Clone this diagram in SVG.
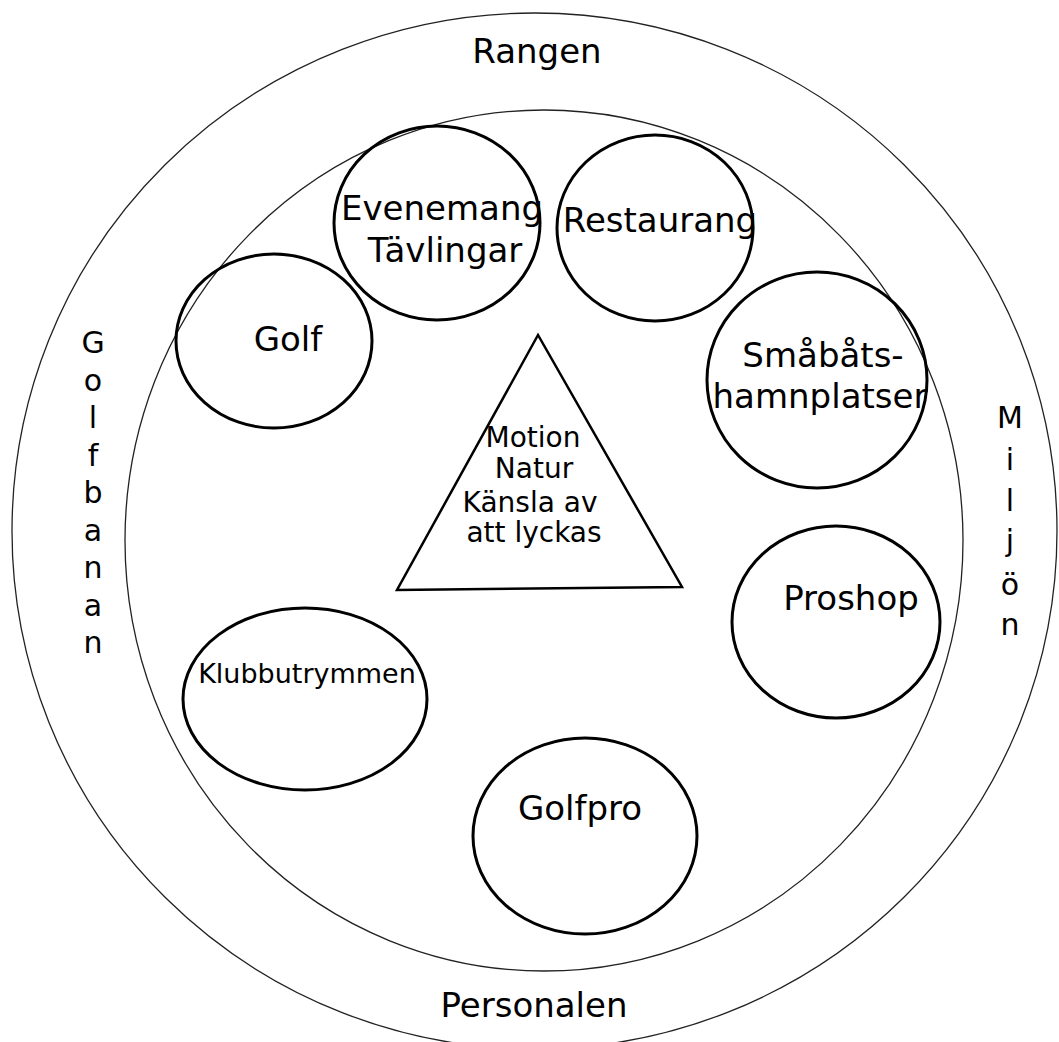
<svg xmlns="http://www.w3.org/2000/svg" width="1059" height="1042" viewBox="0 0 1059 1042">
<style>
.ring{fill:none;stroke:#222;stroke-width:1.3}
.node{fill:none;stroke:#000;stroke-width:3}
.tri{fill:none;stroke:#000;stroke-width:2.5}
text{font-family:"DejaVu Sans","Liberation Sans",sans-serif;fill:#000;text-anchor:middle}
.l{font-size:34px}
.m{font-size:28px}
.s{font-size:27px}
.v{font-size:30px}
</style>
<rect width="1059" height="1042" fill="#fff"/>
<g id="outer-ring">
<ellipse class="ring" cx="534.5" cy="531" rx="522.5" ry="518"/>
<text class="l" x="537" y="63">Rangen</text>
<text class="l" x="534" y="1017">Personalen</text>
<text class="v" x="93"><tspan x="93" y="353">G</tspan><tspan x="93" y="391">o</tspan><tspan x="93" y="428">l</tspan><tspan x="93" y="466">f</tspan><tspan x="93" y="503">b</tspan><tspan x="93" y="541">a</tspan><tspan x="93" y="578">n</tspan><tspan x="93" y="616">a</tspan><tspan x="93" y="653">n</tspan></text>
<text class="v" x="1010"><tspan x="1010" y="428">M</tspan><tspan x="1010" y="470">i</tspan><tspan x="1010" y="511">l</tspan><tspan x="1010" y="551">j</tspan><tspan x="1010" y="595">ö</tspan><tspan x="1010" y="635">n</tspan></text>
</g>
<g id="inner-ring">
<ellipse class="ring" cx="544" cy="540.5" rx="419" ry="430.5"/>
</g>
<g id="evenemang">
<ellipse class="node" cx="437" cy="223" rx="103" ry="97"/>
<text class="l" x="442" y="220">Evenemang</text>
<text class="l" x="445" y="262">Tävlingar</text>
</g>
<g id="restaurang">
<ellipse class="node" cx="655" cy="228" rx="98" ry="93"/>
<text class="l" x="660" y="232">Restaurang</text>
</g>
<g id="smabats">
<ellipse class="node" cx="817" cy="380" rx="110" ry="108"/>
<text class="l" x="823" y="367">Småbåts-</text>
<text class="l" x="820" y="408">hamnplatser</text>
</g>
<g id="golf">
<ellipse class="node" cx="274" cy="341" rx="98" ry="87"/>
<text class="l" x="288" y="351">Golf</text>
</g>
<g id="klubbutrymmen">
<ellipse class="node" cx="305" cy="699" rx="122" ry="91"/>
<text class="s" x="307" y="683">Klubbutrymmen</text>
</g>
<g id="proshop">
<ellipse class="node" cx="836" cy="622" rx="104" ry="96"/>
<text class="l" x="851" y="610">Proshop</text>
</g>
<g id="golfpro">
<ellipse class="node" cx="585" cy="836" rx="112" ry="98"/>
<text class="l" x="580" y="820">Golfpro</text>
</g>
<g id="center">
<polygon class="tri" points="538,335 397,590 682,587"/>
<text class="m" x="533" y="447">Motion</text>
<text class="m" x="534" y="478">Natur</text>
<text class="m" x="530" y="512">Känsla av</text>
<text class="m" x="534" y="542">att lyckas</text>
</g>
<g id="connectors"></g>
</svg>
